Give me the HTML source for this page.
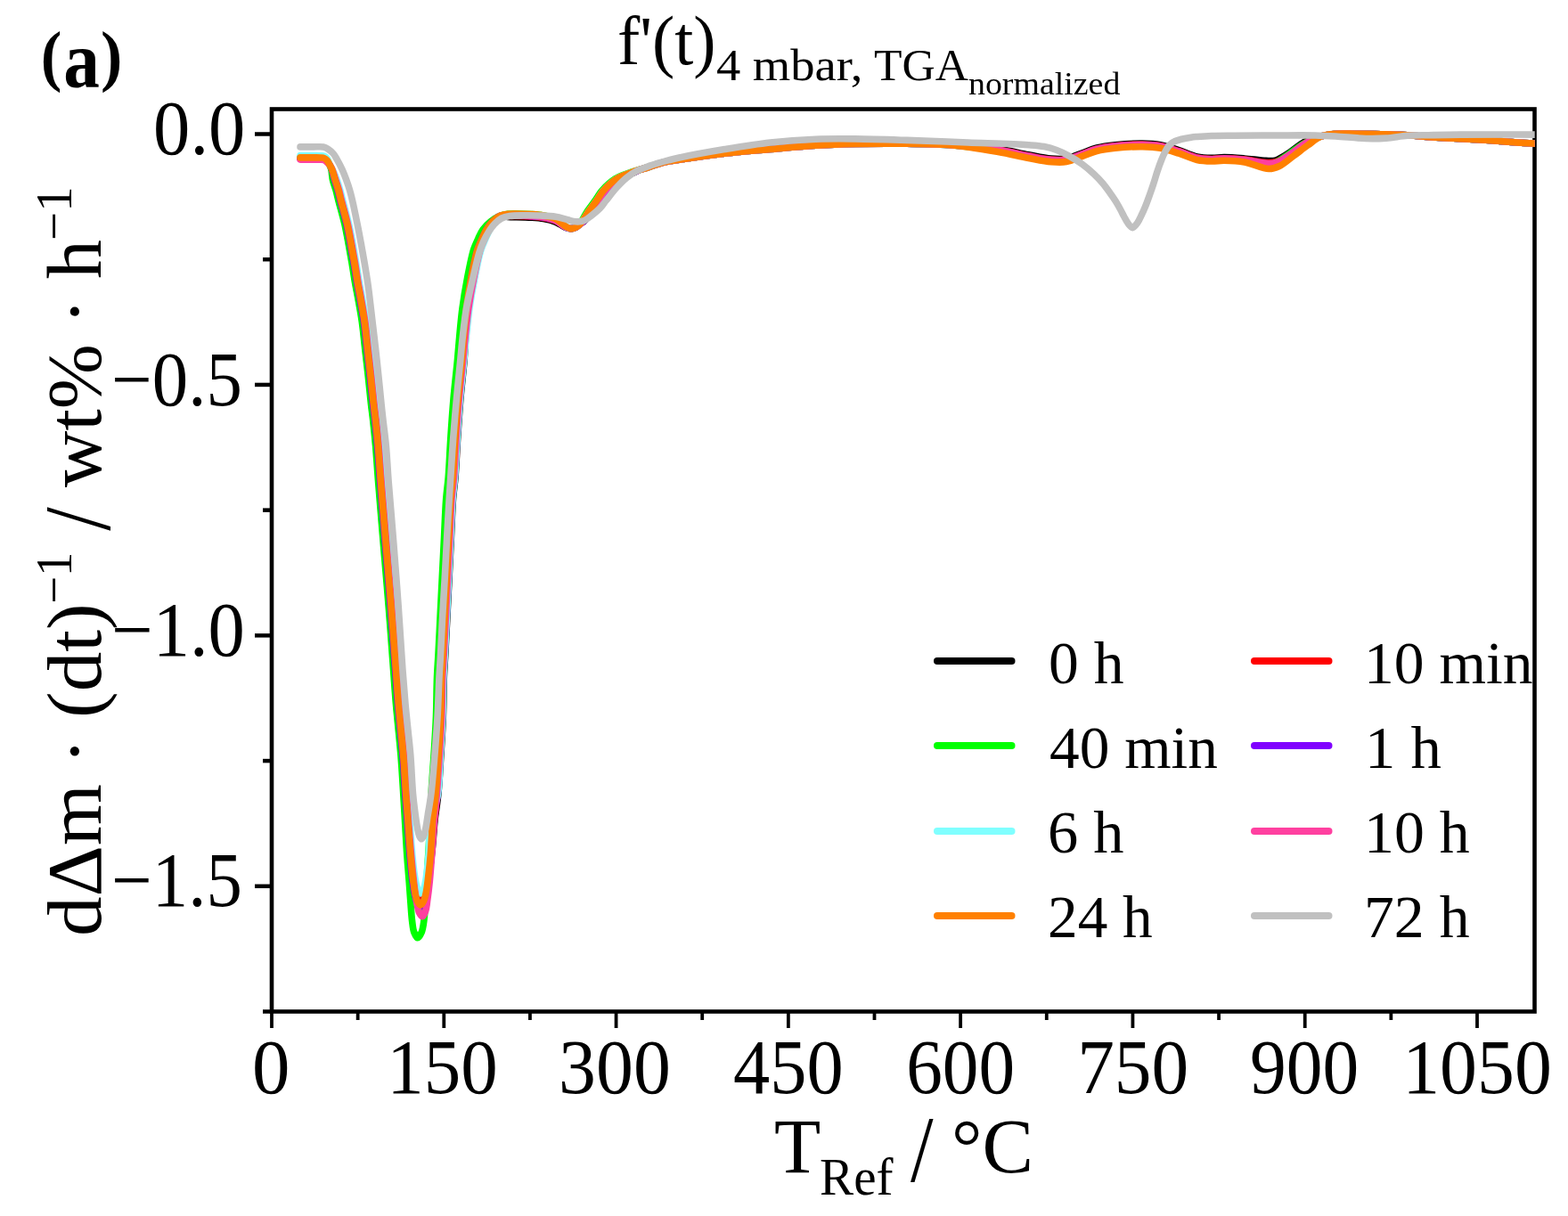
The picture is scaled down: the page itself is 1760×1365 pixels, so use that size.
<!DOCTYPE html>
<html><head><meta charset="utf-8"><title>f'(t) 4 mbar</title><style>
html,body{margin:0;padding:0;background:#fff;width:1760px;height:1365px;overflow:hidden}
svg{display:block}
text{font-family:"Liberation Serif", "DejaVu Serif", serif;fill:#000}
</style></head><body>
<svg width="1760" height="1365" viewBox="0 0 1760 1365">
<rect width="1760" height="1365" fill="#fff"/>
<rect x="305" y="122.5" width="1417.5" height="1013.0" fill="none" stroke="#000" stroke-width="4.6"/>
<g id="curves">
<defs><clipPath id="pc"><rect x="307" y="124.8" width="1415.7" height="1008.4"/></clipPath></defs>
<g clip-path="url(#pc)">
<path d="M337.00,177.40 C341.33,177.40 345.95,177.38 350.00,177.40 C353.55,177.42 357.42,177.29 360.00,177.50 C361.64,177.63 362.78,177.56 364.00,178.10 C365.29,178.67 366.51,179.83 367.50,180.96 C368.51,182.12 369.18,183.55 369.96,185.00 C370.81,186.58 371.62,188.00 372.37,190.10 C373.47,193.18 374.24,197.99 375.34,201.90 C376.45,205.82 377.90,209.68 379.00,213.60 C380.09,217.48 380.70,220.61 381.90,225.30 C383.71,232.39 386.96,243.50 388.90,252.00 C390.65,259.66 391.83,266.66 393.20,274.00 C394.57,281.33 395.86,288.67 397.10,296.00 C398.33,303.30 399.51,311.68 400.60,317.90 C401.41,322.53 402.00,325.04 402.90,330.00 C404.33,337.91 406.73,350.52 408.20,360.80 C409.66,371.02 410.53,381.26 411.70,391.50 C412.87,401.76 414.08,412.03 415.20,422.30 C416.32,432.56 417.38,444.08 418.40,453.10 C419.20,460.17 419.93,465.08 420.70,472.00 C421.63,480.41 422.61,489.83 423.50,500.00 C424.56,512.14 425.30,524.79 426.50,540.00 C428.09,560.22 430.35,587.09 432.30,610.60 C434.25,634.06 436.33,657.46 438.20,680.90 C440.07,704.33 442.00,731.22 443.50,751.20 C444.61,766.04 445.19,775.78 446.40,790.00 C447.88,807.40 450.45,829.99 451.90,848.00 C453.16,863.67 453.69,878.87 454.80,892.00 C455.70,902.68 456.84,910.61 457.80,921.00 C458.92,933.03 459.87,948.08 461.00,960.00 C461.96,970.11 462.82,979.98 464.00,988.00 C464.90,994.09 465.47,999.85 467.00,1004.00 C468.07,1006.92 469.58,1010.89 471.00,1011.00 C472.26,1011.10 473.83,1008.12 475.00,1006.00 C476.57,1003.15 477.68,999.26 478.80,995.00 C480.28,989.37 481.43,982.06 482.50,975.00 C483.70,967.15 484.61,958.65 485.50,950.00 C486.46,940.70 486.95,930.66 488.00,921.00 C489.05,911.32 490.74,902.69 491.80,892.00 C493.11,878.87 493.88,862.67 494.80,848.00 C495.72,833.34 496.72,818.67 497.30,804.00 C497.88,789.34 497.80,772.52 498.30,760.00 C498.67,750.67 499.20,744.92 499.70,735.60 C500.37,723.10 501.17,706.33 501.90,691.70 C502.63,677.07 503.37,662.43 504.10,647.80 C504.83,633.17 505.57,618.53 506.30,603.90 C507.03,589.27 507.54,572.46 508.50,560.00 C509.21,550.73 510.25,545.07 511.00,535.80 C512.01,523.34 512.63,506.54 513.60,491.90 C514.57,477.24 515.55,462.55 516.80,447.90 C518.05,433.25 520.10,416.60 521.09,404.00 C521.83,394.51 522.02,387.91 522.58,379.00 C523.22,368.76 523.64,356.98 524.75,346.00 C525.87,334.98 527.33,323.96 529.28,313.00 C531.24,301.96 533.92,288.19 536.50,280.00 C538.10,274.92 539.78,271.83 541.50,268.00 C543.11,264.41 544.51,260.95 546.46,257.70 C548.42,254.45 550.70,251.10 553.24,248.50 C555.59,246.09 558.14,243.30 561.00,242.50 C563.75,241.73 567.07,243.35 570.00,243.53 C572.79,243.70 574.93,243.53 578.20,243.60 C583.07,243.70 590.78,243.82 596.40,244.20 C601.27,244.53 605.50,244.78 610.00,245.60 C614.57,246.43 619.37,247.49 623.60,249.20 C627.68,250.84 631.81,254.34 635.00,255.53 C637.10,256.31 638.67,256.70 640.50,256.68 C642.34,256.66 644.33,256.18 646.00,255.40 C647.68,254.62 648.91,253.25 650.54,252.00 C652.49,250.51 654.77,249.07 656.87,247.00 C659.46,244.45 662.03,240.83 664.60,237.50 C667.34,233.95 670.09,230.13 672.80,226.30 C675.59,222.37 678.18,217.74 681.10,214.20 C683.71,211.04 686.57,208.28 689.30,205.90 C691.70,203.81 693.92,202.06 696.50,200.50 C699.14,198.91 702.20,197.77 705.00,196.50 C707.69,195.28 710.59,194.09 712.96,193.00 C714.90,192.11 716.19,191.26 718.19,190.50 C720.70,189.54 723.80,188.97 726.90,187.96 C730.53,186.78 734.67,185.00 738.60,183.78 C742.47,182.57 746.35,181.52 750.30,180.67 C754.25,179.83 756.90,179.51 762.30,178.70 C773.41,177.04 796.35,173.75 813.40,171.80 C830.41,169.85 847.45,168.52 864.50,167.00 C881.55,165.48 899.24,163.71 915.70,162.70 C930.99,161.77 944.24,161.33 960.00,161.00 C978.03,160.62 999.26,160.54 1018.00,160.80 C1035.63,161.04 1052.23,161.38 1069.30,162.40 C1086.36,163.42 1105.14,164.69 1120.40,166.90 C1132.97,168.72 1143.94,171.84 1154.50,173.80 C1163.60,175.49 1172.33,177.48 1180.00,178.10 C1186.22,178.60 1191.70,178.88 1197.00,178.00 C1201.88,177.19 1205.69,175.15 1210.70,173.40 C1216.84,171.26 1224.21,167.79 1231.10,166.00 C1237.84,164.25 1244.06,163.50 1251.60,162.70 C1260.78,161.72 1273.11,160.98 1282.30,161.10 C1289.80,161.20 1295.95,161.48 1302.70,162.70 C1309.59,163.95 1316.41,166.41 1323.20,168.60 C1330.04,170.81 1337.08,174.46 1343.60,175.90 C1349.28,177.16 1354.75,177.31 1360.00,177.40 C1364.85,177.48 1368.77,176.60 1374.00,176.60 C1380.68,176.60 1389.09,177.30 1396.80,177.92 C1404.77,178.56 1414.67,180.20 1421.08,180.42 C1425.27,180.56 1427.79,181.09 1431.50,180.06 C1436.42,178.70 1442.21,174.52 1447.50,171.19 C1453.08,167.68 1458.16,162.47 1464.11,159.40 C1470.00,156.36 1476.80,154.37 1483.00,152.83 C1488.75,151.39 1493.96,150.65 1500.00,150.20 C1506.80,149.69 1514.07,150.21 1521.80,150.30 C1530.60,150.40 1540.48,150.56 1550.00,150.80 C1559.77,151.05 1569.34,151.24 1579.70,151.80 C1591.08,152.42 1602.71,153.68 1615.50,154.50 C1630.26,155.44 1647.31,156.00 1663.20,157.00 C1679.11,158.00 1698.57,159.73 1710.90,160.50 C1718.70,160.99 1723.63,161.17 1730.00,161.50" fill="none" stroke="#000000" stroke-width="7.6" stroke-linecap="round" stroke-linejoin="round"/>
<path d="M337.00,177.40 C341.33,177.40 345.95,177.38 350.00,177.40 C353.55,177.42 357.42,177.29 360.00,177.50 C361.64,177.63 362.78,177.56 364.00,178.10 C365.29,178.67 366.51,179.83 367.50,180.96 C368.51,182.12 369.18,183.55 369.98,185.00 C370.84,186.58 371.67,188.00 372.46,190.10 C373.61,193.18 374.49,197.99 375.62,201.90 C376.77,205.82 378.20,209.68 379.30,213.60 C380.39,217.48 381.00,220.61 382.20,225.30 C384.01,232.39 387.26,243.50 389.20,252.00 C390.95,259.66 392.13,266.66 393.50,274.00 C394.87,281.33 396.16,288.67 397.40,296.00 C398.63,303.30 399.81,311.68 400.90,317.90 C401.71,322.53 402.30,325.04 403.20,330.00 C404.63,337.91 407.03,350.52 408.50,360.80 C409.96,371.02 410.83,381.26 412.00,391.50 C413.17,401.76 414.38,412.03 415.50,422.30 C416.62,432.56 417.68,444.08 418.70,453.10 C419.50,460.17 420.23,465.08 421.00,472.00 C421.93,480.41 422.91,489.83 423.80,500.00 C424.86,512.14 425.60,524.79 426.80,540.00 C428.39,560.22 430.65,587.09 432.60,610.60 C434.55,634.06 436.63,657.46 438.50,680.90 C440.37,704.33 442.30,731.22 443.80,751.20 C444.91,766.04 445.49,775.78 446.70,790.00 C448.18,807.40 450.75,829.99 452.20,848.00 C453.46,863.67 454.06,878.86 455.10,892.00 C455.95,902.68 456.89,910.62 457.80,921.00 C458.85,933.04 459.87,948.08 461.00,960.00 C461.96,970.11 462.82,979.98 464.00,988.00 C464.90,994.09 465.40,1000.06 467.00,1004.00 C468.07,1006.62 469.62,1009.94 471.00,1010.00 C472.30,1010.06 473.86,1007.12 475.00,1005.00 C476.52,1002.15 477.45,998.20 478.50,994.00 C479.86,988.56 480.97,981.78 482.00,975.00 C483.18,967.25 484.11,958.65 485.00,950.00 C485.96,940.70 486.50,930.66 487.50,921.00 C488.50,911.32 489.99,902.69 491.00,892.00 C492.24,878.87 493.08,862.67 494.00,848.00 C494.92,833.34 495.92,818.67 496.50,804.00 C497.08,789.34 497.00,772.52 497.50,760.00 C497.87,750.67 498.40,744.92 498.90,735.60 C499.57,723.10 500.37,706.33 501.10,691.70 C501.83,677.07 502.57,662.43 503.30,647.80 C504.03,633.17 504.77,618.53 505.50,603.90 C506.23,589.27 506.74,572.46 507.70,560.00 C508.41,550.73 509.45,545.07 510.20,535.80 C511.21,523.34 511.83,506.54 512.80,491.90 C513.77,477.24 514.75,462.55 516.00,447.90 C517.25,433.25 519.29,416.59 520.32,404.00 C521.09,394.51 521.32,387.91 521.94,379.00 C522.65,368.76 523.18,356.98 524.36,346.00 C525.54,334.98 527.07,323.96 529.06,313.00 C531.05,301.96 533.72,288.19 536.30,280.00 C537.90,274.92 539.58,271.82 541.30,268.00 C542.91,264.41 544.31,260.95 546.28,257.70 C548.25,254.45 550.58,251.09 553.14,248.50 C555.52,246.09 558.11,243.47 561.00,242.50 C563.76,241.58 567.07,242.54 570.00,242.54 C572.80,242.54 574.93,242.45 578.20,242.50 C583.07,242.57 590.78,242.72 596.40,243.10 C601.27,243.43 605.50,243.68 610.00,244.50 C614.57,245.33 619.39,246.29 623.60,248.10 C627.71,249.86 631.80,253.72 635.00,255.12 C637.09,256.04 638.66,256.61 640.50,256.65 C642.33,256.70 644.33,256.17 646.00,255.40 C647.67,254.62 648.96,253.27 650.53,252.00 C652.36,250.52 654.35,249.05 656.28,247.00 C658.70,244.43 661.11,240.81 663.60,237.50 C666.28,233.94 669.09,230.13 671.80,226.30 C674.59,222.37 677.18,217.74 680.10,214.20 C682.71,211.04 685.57,208.28 688.30,205.90 C690.70,203.81 692.92,202.06 695.50,200.50 C698.14,198.91 701.18,197.76 704.00,196.50 C706.75,195.27 709.70,194.07 712.22,193.00 C714.36,192.09 715.95,191.27 718.15,190.50 C720.75,189.58 723.78,188.98 726.90,188.00 C730.53,186.86 734.67,185.16 738.60,184.00 C742.48,182.86 746.36,181.90 750.30,181.10 C754.26,180.30 756.91,179.99 762.30,179.20 C773.41,177.57 796.35,174.25 813.40,172.30 C830.41,170.35 847.45,169.02 864.50,167.50 C881.55,165.98 899.24,164.21 915.70,163.20 C930.99,162.27 944.24,161.83 960.00,161.50 C978.03,161.12 999.26,161.04 1018.00,161.30 C1035.63,161.54 1052.24,161.78 1069.30,162.90 C1086.37,164.02 1105.13,165.70 1120.40,168.00 C1132.96,169.89 1143.94,172.94 1154.50,174.90 C1163.60,176.59 1172.33,178.58 1180.00,179.20 C1186.22,179.70 1191.70,179.98 1197.00,179.10 C1201.88,178.29 1205.69,176.25 1210.70,174.50 C1216.84,172.36 1224.21,168.89 1231.10,167.10 C1237.84,165.35 1244.06,164.60 1251.60,163.80 C1260.78,162.82 1273.11,162.08 1282.30,162.20 C1289.80,162.30 1295.95,162.58 1302.70,163.80 C1309.59,165.05 1316.41,167.51 1323.20,169.70 C1330.04,171.91 1337.08,175.56 1343.60,177.00 C1349.28,178.26 1354.75,178.41 1360.00,178.50 C1364.85,178.58 1368.77,177.69 1374.00,177.70 C1380.68,177.71 1389.07,178.32 1396.80,179.09 C1404.86,179.90 1414.90,182.33 1421.41,182.52 C1425.66,182.64 1428.25,182.85 1432.00,181.67 C1436.95,180.12 1442.70,175.76 1448.00,172.33 C1453.55,168.74 1458.68,163.75 1464.54,160.50 C1470.35,157.28 1476.87,154.60 1483.00,152.88 C1488.69,151.28 1493.96,150.66 1500.00,150.20 C1506.80,149.68 1514.07,150.21 1521.80,150.30 C1530.60,150.40 1540.48,150.56 1550.00,150.80 C1559.77,151.05 1569.34,151.24 1579.70,151.80 C1591.08,152.42 1602.71,153.68 1615.50,154.50 C1630.26,155.44 1647.31,156.00 1663.20,157.00 C1679.11,158.00 1698.57,159.73 1710.90,160.50 C1718.70,160.99 1723.63,161.17 1730.00,161.50" fill="none" stroke="#ff0000" stroke-width="7.6" stroke-linecap="round" stroke-linejoin="round"/>
<path d="M337.00,176.90 C341.33,176.90 345.95,176.88 350.00,176.90 C353.55,176.92 357.42,176.79 360.00,177.00 C361.64,177.13 362.78,177.05 364.00,177.60 C365.29,178.18 366.54,179.31 367.50,180.50 C368.52,181.75 369.16,183.43 369.87,185.00 C370.60,186.63 371.27,188.01 371.80,190.10 C372.59,193.19 372.58,198.01 373.44,201.90 C374.31,205.84 375.92,209.69 377.00,213.60 C378.07,217.49 378.70,220.61 379.90,225.30 C381.71,232.39 384.96,243.50 386.90,252.00 C388.65,259.66 389.83,266.66 391.20,274.00 C392.57,281.33 393.86,288.67 395.10,296.00 C396.33,303.30 397.51,311.68 398.60,317.90 C399.41,322.53 400.00,325.04 400.90,330.00 C402.33,337.91 404.73,350.52 406.20,360.80 C407.66,371.02 408.53,381.26 409.70,391.50 C410.87,401.76 412.08,412.03 413.20,422.30 C414.32,432.56 415.38,444.08 416.40,453.10 C417.20,460.17 417.93,465.08 418.70,472.00 C419.63,480.41 420.61,489.83 421.50,500.00 C422.56,512.14 423.30,524.79 424.50,540.00 C426.09,560.22 428.35,587.09 430.30,610.60 C432.25,634.06 434.33,657.46 436.20,680.90 C438.07,704.33 440.00,731.22 441.50,751.20 C442.61,766.04 443.19,775.78 444.40,790.00 C445.88,807.40 448.45,829.99 449.90,848.00 C451.16,863.67 451.98,878.86 452.80,892.00 C453.46,902.67 453.89,910.62 454.50,921.00 C455.21,933.04 455.96,947.86 456.80,960.00 C457.54,970.66 458.50,980.77 459.20,990.00 C459.80,997.90 460.23,1004.67 460.80,1012.00 C461.37,1019.33 461.79,1027.71 462.60,1034.00 C463.21,1038.77 463.48,1043.15 464.80,1046.50 C465.82,1049.08 467.51,1052.78 468.90,1052.80 C470.30,1052.82 472.10,1049.09 473.20,1046.50 C474.62,1043.15 475.10,1038.95 475.80,1034.00 C476.80,1026.93 477.17,1017.19 477.80,1008.00 C478.51,997.66 479.09,986.85 479.80,975.00 C480.63,961.16 481.79,944.37 482.50,930.00 C483.16,916.80 483.29,905.13 484.00,892.00 C484.76,877.87 486.08,862.67 487.00,848.00 C487.92,833.34 488.92,818.67 489.50,804.00 C490.08,789.34 490.00,772.52 490.50,760.00 C490.87,750.67 491.40,744.92 491.90,735.60 C492.57,723.10 493.37,706.33 494.10,691.70 C494.83,677.07 495.57,662.43 496.30,647.80 C497.03,633.17 497.77,618.53 498.50,603.90 C499.23,589.27 499.74,572.46 500.70,560.00 C501.41,550.73 502.45,545.07 503.20,535.80 C504.21,523.34 504.83,506.54 505.80,491.90 C506.77,477.24 507.73,462.55 509.00,447.90 C510.27,433.25 512.26,416.59 513.43,404.00 C514.32,394.51 514.75,387.91 515.59,379.00 C516.56,368.76 517.51,356.98 518.97,346.00 C520.44,334.98 522.26,323.97 524.38,313.00 C526.50,301.97 529.11,288.19 531.70,280.00 C533.31,274.92 534.93,271.81 536.70,268.00 C538.38,264.40 539.72,260.88 542.01,257.70 C544.43,254.35 547.72,251.07 550.97,248.50 C554.08,246.05 557.64,243.88 561.00,242.50 C563.99,241.27 567.05,240.71 570.00,240.30 C572.78,239.91 574.93,240.01 578.20,240.00 C583.07,239.99 590.78,240.22 596.40,240.60 C601.27,240.93 605.50,241.18 610.00,242.00 C614.57,242.83 619.45,243.58 623.60,245.60 C627.79,247.63 631.79,252.32 635.00,254.20 C637.08,255.42 638.64,256.42 640.50,256.60 C642.30,256.78 644.34,256.17 646.00,255.40 C647.66,254.63 649.23,253.38 650.48,252.00 C651.76,250.59 652.40,248.94 653.55,247.00 C655.13,244.35 656.90,240.74 659.00,237.50 C661.37,233.86 664.49,230.13 667.20,226.30 C669.99,222.37 672.58,217.74 675.50,214.20 C678.11,211.04 680.97,208.28 683.70,205.90 C686.10,203.81 688.32,202.06 690.90,200.50 C693.54,198.91 696.47,197.73 699.40,196.50 C702.43,195.23 705.68,194.01 708.81,193.00 C711.85,192.02 714.90,191.34 717.92,190.50 C720.93,189.67 723.72,188.98 726.90,188.00 C730.56,186.87 734.67,185.16 738.60,184.00 C742.48,182.86 746.36,181.90 750.30,181.10 C754.26,180.30 756.91,179.99 762.30,179.20 C773.41,177.57 796.35,174.25 813.40,172.30 C830.41,170.35 847.45,169.02 864.50,167.50 C881.55,165.98 899.24,164.21 915.70,163.20 C930.99,162.27 944.24,161.83 960.00,161.50 C978.03,161.12 999.26,161.04 1018.00,161.30 C1035.63,161.54 1052.24,161.62 1069.30,162.90 C1086.38,164.18 1105.13,166.55 1120.40,169.00 C1132.96,171.02 1143.94,173.94 1154.50,175.90 C1163.60,177.59 1172.33,179.58 1180.00,180.20 C1186.22,180.70 1191.70,180.98 1197.00,180.10 C1201.88,179.29 1205.69,177.25 1210.70,175.50 C1216.84,173.36 1224.21,169.89 1231.10,168.10 C1237.84,166.35 1244.06,165.60 1251.60,164.80 C1260.78,163.82 1273.11,163.08 1282.30,163.20 C1289.80,163.30 1295.95,163.58 1302.70,164.80 C1309.59,166.05 1316.41,168.51 1323.20,170.70 C1330.04,172.91 1337.08,176.56 1343.60,178.00 C1349.28,179.26 1354.75,179.41 1360.00,179.50 C1364.85,179.58 1368.77,178.68 1374.00,178.70 C1380.68,178.73 1389.19,179.16 1396.80,180.19 C1404.56,181.25 1413.97,184.87 1420.11,185.01 C1424.09,185.11 1426.46,184.78 1430.00,183.45 C1434.87,181.62 1440.65,176.96 1446.00,173.39 C1451.58,169.66 1456.76,164.87 1462.81,161.50 C1469.06,158.02 1476.45,154.81 1483.00,152.93 C1488.81,151.26 1493.96,150.67 1500.00,150.20 C1506.80,149.67 1514.07,150.21 1521.80,150.30 C1530.60,150.40 1540.48,150.56 1550.00,150.80 C1559.77,151.05 1569.34,151.24 1579.70,151.80 C1591.08,152.42 1602.71,153.68 1615.50,154.50 C1630.26,155.44 1647.31,156.00 1663.20,157.00 C1679.11,158.00 1698.57,159.73 1710.90,160.50 C1718.70,160.99 1723.63,161.17 1730.00,161.50" fill="none" stroke="#00ff00" stroke-width="7.6" stroke-linecap="round" stroke-linejoin="round"/>
<path d="M337.00,177.70 C341.33,177.70 345.95,177.68 350.00,177.70 C353.55,177.72 357.42,177.59 360.00,177.80 C361.64,177.93 362.78,177.86 364.00,178.40 C365.29,178.97 366.51,180.13 367.50,181.23 C368.49,182.33 369.19,183.62 369.97,185.00 C370.84,186.55 371.64,188.00 372.40,190.10 C373.52,193.18 374.32,197.99 375.43,201.90 C376.55,205.82 378.00,209.68 379.10,213.60 C380.19,217.48 380.80,220.61 382.00,225.30 C383.81,232.39 387.06,243.50 389.00,252.00 C390.75,259.66 391.93,266.66 393.30,274.00 C394.67,281.33 395.96,288.67 397.20,296.00 C398.43,303.30 399.61,311.68 400.70,317.90 C401.51,322.53 402.10,325.04 403.00,330.00 C404.43,337.91 406.83,350.52 408.30,360.80 C409.76,371.02 410.63,381.26 411.80,391.50 C412.97,401.76 414.18,412.03 415.30,422.30 C416.42,432.56 417.48,444.08 418.50,453.10 C419.30,460.17 420.03,465.08 420.80,472.00 C421.73,480.41 422.71,489.83 423.60,500.00 C424.66,512.14 425.40,524.79 426.60,540.00 C428.19,560.22 430.45,587.09 432.40,610.60 C434.35,634.06 436.43,657.46 438.30,680.90 C440.17,704.33 442.10,731.22 443.60,751.20 C444.71,766.04 445.29,775.78 446.50,790.00 C447.98,807.40 450.55,829.99 452.00,848.00 C453.26,863.67 453.97,878.86 454.90,892.00 C455.66,902.67 456.31,910.62 457.10,921.00 C458.02,933.04 459.08,948.44 460.10,960.00 C460.92,969.26 461.67,977.48 462.60,985.00 C463.37,991.22 464.07,996.97 465.10,1002.00 C465.94,1006.09 466.67,1010.14 468.00,1013.00 C468.97,1015.10 470.33,1018.00 471.50,1018.00 C472.67,1018.00 474.03,1015.05 475.00,1013.00 C476.27,1010.32 477.00,1006.85 477.80,1003.00 C478.86,997.91 479.50,991.50 480.30,985.00 C481.24,977.36 482.17,969.26 483.00,960.00 C484.04,948.45 484.26,933.00 485.80,921.00 C487.14,910.58 489.84,902.71 491.20,892.00 C492.86,878.90 493.28,862.67 494.20,848.00 C495.12,833.34 496.12,818.67 496.70,804.00 C497.28,789.34 497.20,772.52 497.70,760.00 C498.07,750.67 498.60,744.92 499.10,735.60 C499.77,723.10 500.57,706.33 501.30,691.70 C502.03,677.07 502.77,662.43 503.50,647.80 C504.23,633.17 504.97,618.53 505.70,603.90 C506.43,589.27 506.94,572.46 507.90,560.00 C508.61,550.73 509.65,545.07 510.40,535.80 C511.41,523.34 512.03,506.54 513.00,491.90 C513.97,477.24 514.95,462.55 516.20,447.90 C517.45,433.25 519.50,416.60 520.49,404.00 C521.24,394.51 521.44,387.91 522.01,379.00 C522.66,368.76 523.10,356.98 524.22,346.00 C525.35,334.98 526.82,323.96 528.77,313.00 C530.74,301.96 533.42,288.19 536.00,280.00 C537.60,274.92 539.28,271.82 541.00,268.00 C542.62,264.41 544.01,260.94 546.00,257.70 C548.00,254.44 550.39,251.09 553.00,248.50 C555.43,246.09 558.08,243.55 561.00,242.50 C563.77,241.51 567.07,242.17 570.00,242.09 C572.80,242.01 574.93,241.96 578.20,242.00 C583.07,242.05 590.78,242.22 596.40,242.60 C601.27,242.93 605.50,243.18 610.00,244.00 C614.57,244.83 619.40,245.75 623.60,247.60 C627.72,249.42 631.80,253.44 635.00,254.94 C637.09,255.91 638.66,256.57 640.50,256.64 C642.32,256.72 644.33,256.17 646.00,255.40 C647.68,254.63 648.93,253.26 650.54,252.00 C652.43,250.51 654.56,249.06 656.58,247.00 C659.08,244.44 661.57,240.82 664.10,237.50 C666.81,233.94 669.59,230.13 672.30,226.30 C675.09,222.37 677.68,217.74 680.60,214.20 C683.21,211.04 686.07,208.28 688.80,205.90 C691.20,203.81 693.42,202.06 696.00,200.50 C698.64,198.91 701.69,197.77 704.50,196.50 C707.22,195.27 710.15,194.08 712.59,193.00 C714.63,192.10 716.07,191.27 718.17,190.50 C720.73,189.57 723.79,188.98 726.90,188.00 C730.53,186.86 734.67,185.16 738.60,184.00 C742.48,182.86 746.36,181.90 750.30,181.10 C754.26,180.30 756.91,179.99 762.30,179.20 C773.41,177.57 796.35,174.25 813.40,172.30 C830.41,170.35 847.45,169.02 864.50,167.50 C881.55,165.98 899.24,164.21 915.70,163.20 C930.99,162.27 944.24,161.83 960.00,161.50 C978.03,161.12 999.26,161.04 1018.00,161.30 C1035.63,161.54 1052.24,161.68 1069.30,162.90 C1086.37,164.12 1105.13,166.21 1120.40,168.60 C1132.96,170.57 1143.94,173.54 1154.50,175.50 C1163.60,177.19 1172.33,179.18 1180.00,179.80 C1186.22,180.30 1191.70,180.58 1197.00,179.70 C1201.88,178.89 1205.69,176.85 1210.70,175.10 C1216.84,172.96 1224.21,169.49 1231.10,167.70 C1237.84,165.95 1244.06,165.20 1251.60,164.40 C1260.78,163.42 1273.11,162.68 1282.30,162.80 C1289.80,162.90 1295.95,163.18 1302.70,164.40 C1309.59,165.65 1316.41,168.11 1323.20,170.30 C1330.04,172.51 1337.08,176.16 1343.60,177.60 C1349.28,178.86 1354.75,179.01 1360.00,179.10 C1364.85,179.18 1368.77,178.28 1374.00,178.30 C1380.68,178.32 1389.03,178.84 1396.80,179.76 C1405.03,180.73 1415.36,183.94 1422.06,184.11 C1426.45,184.22 1429.16,184.13 1433.00,182.79 C1438.01,181.05 1443.70,176.51 1449.00,172.97 C1454.50,169.30 1459.67,164.47 1465.41,161.10 C1471.02,157.80 1477.06,154.73 1483.00,152.91 C1488.60,151.20 1493.96,150.66 1500.00,150.20 C1506.80,149.68 1514.07,150.21 1521.80,150.30 C1530.60,150.40 1540.48,150.56 1550.00,150.80 C1559.77,151.05 1569.34,151.24 1579.70,151.80 C1591.08,152.42 1602.71,153.68 1615.50,154.50 C1630.26,155.44 1647.31,156.00 1663.20,157.00 C1679.11,158.00 1698.57,159.73 1710.90,160.50 C1718.70,160.99 1723.63,161.17 1730.00,161.50" fill="none" stroke="#8000ff" stroke-width="7.6" stroke-linecap="round" stroke-linejoin="round"/>
<path d="M337.00,174.60 C341.33,174.60 345.95,174.58 350.00,174.60 C353.55,174.62 357.42,174.49 360.00,174.70 C361.64,174.83 362.79,174.73 364.00,175.30 C365.30,175.91 366.54,177.02 367.50,178.39 C368.68,180.08 369.10,182.98 370.09,185.00 C371.01,186.85 372.11,188.00 373.17,190.10 C374.71,193.17 376.55,197.95 378.00,201.90 C379.42,205.78 380.68,209.68 381.80,213.60 C382.91,217.48 383.50,220.61 384.70,225.30 C386.51,232.39 389.76,243.50 391.70,252.00 C393.45,259.66 394.63,266.66 396.00,274.00 C397.37,281.33 398.66,288.67 399.90,296.00 C401.13,303.30 402.31,311.68 403.40,317.90 C404.21,322.53 404.80,325.04 405.70,330.00 C407.13,337.91 409.53,350.52 411.00,360.80 C412.46,371.02 413.33,381.26 414.50,391.50 C415.67,401.76 416.88,412.03 418.00,422.30 C419.12,432.56 420.18,444.08 421.20,453.10 C422.00,460.17 422.73,465.08 423.50,472.00 C424.43,480.41 425.41,489.83 426.30,500.00 C427.36,512.14 428.10,524.79 429.30,540.00 C430.89,560.22 433.15,587.09 435.10,610.60 C437.05,634.06 439.13,657.46 441.00,680.90 C442.87,704.33 444.80,731.22 446.30,751.20 C447.41,766.04 447.99,775.78 449.20,790.00 C450.68,807.40 453.25,829.99 454.70,848.00 C455.96,863.67 456.67,878.86 457.60,892.00 C458.36,902.67 459.01,910.62 459.80,921.00 C460.72,933.04 461.66,948.45 462.80,960.00 C463.71,969.27 464.58,978.04 465.80,985.00 C466.69,990.06 467.44,994.77 468.80,998.00 C469.71,1000.16 470.89,1002.98 472.00,1003.00 C473.12,1003.02 474.55,1000.18 475.50,998.00 C476.90,994.78 477.48,990.06 478.30,985.00 C479.42,978.04 480.20,969.27 481.00,960.00 C481.99,948.45 481.51,932.95 483.50,921.00 C485.24,910.52 489.58,902.77 491.40,892.00 C493.60,878.95 493.48,862.67 494.40,848.00 C495.32,833.34 496.32,818.67 496.90,804.00 C497.48,789.34 497.40,772.52 497.90,760.00 C498.27,750.67 498.80,744.92 499.30,735.60 C499.97,723.10 500.77,706.33 501.50,691.70 C502.23,677.07 502.97,662.43 503.70,647.80 C504.43,633.17 505.17,618.53 505.90,603.90 C506.63,589.27 507.14,572.46 508.10,560.00 C508.81,550.73 509.85,545.07 510.60,535.80 C511.61,523.34 512.23,506.54 513.20,491.90 C514.17,477.24 515.12,462.55 516.40,447.90 C517.68,433.25 519.64,416.59 520.88,404.00 C521.81,394.50 522.31,387.91 523.23,379.00 C524.30,368.76 525.41,356.98 526.97,346.00 C528.55,334.98 530.48,323.97 532.65,313.00 C534.82,301.97 537.40,288.19 540.00,280.00 C541.61,274.92 543.33,271.83 545.00,268.00 C546.56,264.42 548.03,261.00 549.71,257.70 C551.33,254.51 552.88,251.12 554.88,248.50 C556.69,246.14 558.53,243.65 561.00,242.50 C563.54,241.32 567.07,241.81 570.00,241.64 C572.79,241.49 574.93,241.47 578.20,241.50 C583.07,241.54 590.78,241.72 596.40,242.10 C601.27,242.43 605.50,242.68 610.00,243.50 C614.57,244.33 619.41,245.20 623.60,247.10 C627.74,248.97 631.80,253.16 635.00,254.75 C637.09,255.79 638.65,256.53 640.50,256.63 C642.32,256.73 644.33,256.17 646.00,255.40 C647.67,254.63 649.12,253.34 650.50,252.00 C651.97,250.57 653.08,248.98 654.50,247.00 C656.38,244.38 658.36,240.76 660.60,237.50 C663.08,233.88 666.09,230.13 668.80,226.30 C671.59,222.37 674.18,217.74 677.10,214.20 C679.71,211.04 682.57,208.28 685.30,205.90 C687.70,203.81 689.92,202.06 692.50,200.50 C695.14,198.91 698.10,197.74 701.00,196.50 C703.94,195.24 707.07,194.03 710.00,193.00 C712.73,192.04 715.26,191.31 718.00,190.50 C720.88,189.65 723.75,188.98 726.90,188.00 C730.55,186.86 734.67,185.16 738.60,184.00 C742.48,182.86 746.36,181.90 750.30,181.10 C754.26,180.30 756.91,179.99 762.30,179.20 C773.41,177.57 796.35,174.25 813.40,172.30 C830.41,170.35 847.45,169.02 864.50,167.50 C881.55,165.98 899.24,164.21 915.70,163.20 C930.99,162.27 944.24,161.83 960.00,161.50 C978.03,161.12 999.26,161.04 1018.00,161.30 C1035.63,161.54 1052.25,161.54 1069.30,162.90 C1086.38,164.27 1105.12,166.97 1120.40,169.50 C1132.95,171.58 1143.94,174.44 1154.50,176.40 C1163.60,178.09 1172.33,180.08 1180.00,180.70 C1186.22,181.20 1191.70,181.48 1197.00,180.60 C1201.88,179.79 1205.69,177.75 1210.70,176.00 C1216.84,173.86 1224.21,170.39 1231.10,168.60 C1237.84,166.85 1244.06,166.10 1251.60,165.30 C1260.78,164.32 1273.11,163.58 1282.30,163.70 C1289.80,163.80 1295.95,164.08 1302.70,165.30 C1309.59,166.55 1316.41,169.01 1323.20,171.20 C1330.04,173.41 1337.08,177.06 1343.60,178.50 C1349.28,179.76 1354.75,179.91 1360.00,180.00 C1364.85,180.08 1368.77,179.15 1374.00,179.20 C1380.68,179.26 1388.94,179.52 1396.80,180.90 C1405.54,182.43 1416.75,188.40 1424.00,188.50 C1428.80,188.57 1431.90,187.40 1436.00,185.50 C1441.17,183.10 1446.69,177.90 1452.00,174.00 C1457.35,170.07 1462.66,165.60 1468.00,162.00 C1473.00,158.63 1477.64,154.92 1483.00,152.95 C1488.31,151.00 1493.96,150.67 1500.00,150.20 C1506.79,149.67 1514.07,150.21 1521.80,150.30 C1530.60,150.40 1540.48,150.56 1550.00,150.80 C1559.77,151.05 1569.34,151.24 1579.70,151.80 C1591.08,152.42 1602.71,153.68 1615.50,154.50 C1630.26,155.44 1647.31,156.00 1663.20,157.00 C1679.11,158.00 1698.57,159.73 1710.90,160.50 C1718.70,160.99 1723.63,161.17 1730.00,161.50" fill="none" stroke="#80ffff" stroke-width="7.6" stroke-linecap="round" stroke-linejoin="round"/>
<path d="M337.00,179.10 C341.33,179.10 345.95,179.08 350.00,179.10 C353.55,179.12 357.42,178.99 360.00,179.20 C361.64,179.33 362.77,179.28 364.00,179.80 C365.28,180.35 366.45,181.60 367.50,182.51 C368.44,183.33 369.24,183.95 370.04,185.00 C371.05,186.34 371.90,188.00 372.83,190.10 C374.18,193.18 375.56,197.97 376.86,201.90 C378.15,205.80 379.49,209.68 380.60,213.60 C381.70,217.48 382.30,220.61 383.50,225.30 C385.31,232.39 388.56,243.50 390.50,252.00 C392.25,259.66 393.43,266.66 394.80,274.00 C396.17,281.33 397.46,288.67 398.70,296.00 C399.93,303.30 401.11,311.68 402.20,317.90 C403.01,322.53 403.60,325.04 404.50,330.00 C405.93,337.91 408.33,350.52 409.80,360.80 C411.26,371.02 412.13,381.26 413.30,391.50 C414.47,401.76 415.68,412.03 416.80,422.30 C417.92,432.56 418.98,444.08 420.00,453.10 C420.80,460.17 421.53,465.08 422.30,472.00 C423.23,480.41 424.21,489.83 425.10,500.00 C426.16,512.14 426.90,524.79 428.10,540.00 C429.69,560.22 431.95,587.09 433.90,610.60 C435.85,634.06 437.93,657.46 439.80,680.90 C441.67,704.33 443.60,731.22 445.10,751.20 C446.21,766.04 446.79,775.78 448.00,790.00 C449.48,807.40 452.05,829.99 453.50,848.00 C454.76,863.67 455.49,878.86 456.40,892.00 C457.14,902.67 457.71,910.62 458.50,921.00 C459.41,933.04 460.51,947.86 461.60,960.00 C462.56,970.66 463.51,980.78 464.60,990.00 C465.53,997.91 466.42,1005.72 467.60,1012.00 C468.50,1016.78 469.11,1021.54 470.60,1024.50 C471.59,1026.46 473.08,1028.89 474.20,1028.80 C475.43,1028.70 476.72,1025.42 477.60,1023.00 C478.83,1019.62 479.11,1014.81 479.80,1010.00 C480.66,1004.06 481.45,997.35 482.20,990.00 C483.11,981.02 483.87,970.66 484.70,960.00 C485.64,947.85 486.49,933.03 487.50,921.00 C488.37,910.61 489.42,902.68 490.30,892.00 C491.38,878.86 492.38,862.67 493.30,848.00 C494.22,833.34 495.22,818.67 495.80,804.00 C496.38,789.34 496.30,772.52 496.80,760.00 C497.17,750.67 497.70,744.92 498.20,735.60 C498.87,723.10 499.67,706.33 500.40,691.70 C501.13,677.07 501.87,662.43 502.60,647.80 C503.33,633.17 504.07,618.53 504.80,603.90 C505.53,589.27 506.04,572.46 507.00,560.00 C507.71,550.73 508.75,545.07 509.50,535.80 C510.51,523.34 511.13,506.54 512.10,491.90 C513.07,477.24 514.02,462.55 515.30,447.90 C516.58,433.25 518.54,416.59 519.78,404.00 C520.72,394.50 521.23,387.91 522.16,379.00 C523.23,368.76 524.37,356.98 525.94,346.00 C527.52,334.98 529.47,323.97 531.64,313.00 C533.82,301.97 536.40,288.19 539.00,280.00 C540.61,274.92 542.31,271.83 544.00,268.00 C545.58,264.42 547.02,260.99 548.78,257.70 C550.50,254.50 552.25,251.11 554.41,248.50 C556.38,246.13 558.41,243.60 561.00,242.50 C563.60,241.39 567.07,242.03 570.00,241.91 C572.80,241.80 574.93,241.77 578.20,241.80 C583.07,241.85 590.78,242.02 596.40,242.40 C601.27,242.73 605.50,242.98 610.00,243.80 C614.57,244.63 619.41,245.53 623.60,247.40 C627.73,249.24 631.80,253.33 635.00,254.86 C637.09,255.86 638.66,256.56 640.50,256.64 C642.32,256.72 644.33,256.17 646.00,255.40 C647.67,254.63 649.01,253.30 650.52,252.00 C652.23,250.54 653.93,249.02 655.69,247.00 C657.93,244.41 660.19,240.80 662.60,237.50 C665.21,233.92 668.09,230.13 670.80,226.30 C673.59,222.37 676.18,217.74 679.10,214.20 C681.71,211.04 684.57,208.28 687.30,205.90 C689.70,203.81 691.92,202.06 694.50,200.50 C697.14,198.91 700.15,197.76 703.00,196.50 C705.81,195.26 708.82,194.05 711.48,193.00 C713.82,192.08 715.72,191.29 718.10,190.50 C720.80,189.61 723.77,188.98 726.90,188.00 C730.54,186.86 734.67,185.16 738.60,184.00 C742.48,182.86 746.36,181.90 750.30,181.10 C754.26,180.30 756.91,179.99 762.30,179.20 C773.41,177.57 796.35,174.25 813.40,172.30 C830.41,170.35 847.45,169.02 864.50,167.50 C881.55,165.98 899.24,164.21 915.70,163.20 C930.99,162.27 944.24,161.83 960.00,161.50 C978.03,161.12 999.26,161.04 1018.00,161.30 C1035.63,161.54 1052.24,161.75 1069.30,162.90 C1086.37,164.05 1105.13,165.87 1120.40,168.20 C1132.96,170.12 1143.94,173.14 1154.50,175.10 C1163.60,176.79 1172.33,178.78 1180.00,179.40 C1186.22,179.90 1191.70,180.18 1197.00,179.30 C1201.88,178.49 1205.69,176.45 1210.70,174.70 C1216.84,172.56 1224.21,169.09 1231.10,167.30 C1237.84,165.55 1244.06,164.80 1251.60,164.00 C1260.78,163.02 1273.11,162.28 1282.30,162.40 C1289.80,162.50 1295.95,162.78 1302.70,164.00 C1309.59,165.25 1316.41,167.71 1323.20,169.90 C1330.04,172.11 1337.08,175.76 1343.60,177.20 C1349.28,178.46 1354.75,178.61 1360.00,178.70 C1364.85,178.78 1368.77,177.88 1374.00,177.90 C1380.68,177.92 1389.03,178.47 1396.80,179.34 C1405.03,180.26 1415.36,183.24 1422.06,183.41 C1426.45,183.53 1429.16,183.53 1433.00,182.24 C1438.01,180.55 1443.70,176.06 1449.00,172.56 C1454.51,168.91 1459.66,164.00 1465.41,160.70 C1471.01,157.48 1477.07,154.64 1483.00,152.89 C1488.61,151.23 1493.96,150.66 1500.00,150.20 C1506.80,149.68 1514.07,150.21 1521.80,150.30 C1530.60,150.40 1540.48,150.56 1550.00,150.80 C1559.77,151.05 1569.34,151.24 1579.70,151.80 C1591.08,152.42 1602.71,153.68 1615.50,154.50 C1630.26,155.44 1647.31,156.00 1663.20,157.00 C1679.11,158.00 1698.57,159.73 1710.90,160.50 C1718.70,160.99 1723.63,161.17 1730.00,161.50" fill="none" stroke="#ff40a0" stroke-width="7.6" stroke-linecap="round" stroke-linejoin="round"/>
<path d="M337.00,176.90 C341.33,176.90 345.95,176.88 350.00,176.90 C353.55,176.92 357.42,176.79 360.00,177.00 C361.64,177.13 362.78,177.05 364.00,177.60 C365.29,178.18 366.52,179.32 367.50,180.50 C368.54,181.76 369.17,183.45 370.00,185.00 C370.87,186.64 371.76,188.00 372.60,190.10 C373.83,193.18 374.90,197.98 376.10,201.90 C377.30,205.81 378.70,209.68 379.80,213.60 C380.89,217.48 381.50,220.61 382.70,225.30 C384.51,232.39 387.76,243.50 389.70,252.00 C391.45,259.66 392.63,266.66 394.00,274.00 C395.37,281.33 396.66,288.67 397.90,296.00 C399.13,303.30 400.31,311.68 401.40,317.90 C402.21,322.53 402.80,325.04 403.70,330.00 C405.13,337.91 407.53,350.52 409.00,360.80 C410.46,371.02 411.33,381.26 412.50,391.50 C413.67,401.76 414.88,412.03 416.00,422.30 C417.12,432.56 418.18,444.08 419.20,453.10 C420.00,460.17 420.73,465.08 421.50,472.00 C422.43,480.41 423.41,489.83 424.30,500.00 C425.36,512.14 426.10,524.79 427.30,540.00 C428.89,560.22 431.15,587.09 433.10,610.60 C435.05,634.06 437.13,657.46 439.00,680.90 C440.87,704.33 442.80,731.22 444.30,751.20 C445.41,766.04 445.99,775.78 447.20,790.00 C448.68,807.40 451.25,829.99 452.70,848.00 C453.96,863.67 454.67,878.86 455.60,892.00 C456.36,902.67 457.07,911.33 457.80,921.00 C457.80,921.00 457.80,921.00 457.80,921.00 C458.80,934.00 459.78,948.44 460.80,960.00 C461.62,969.26 462.37,977.48 463.30,985.00 C464.07,991.22 464.77,997.18 465.80,1002.00 C466.58,1005.65 467.24,1009.01 468.50,1011.50 C469.46,1013.39 470.83,1016.00 472.00,1016.00 C473.17,1016.00 474.54,1013.39 475.50,1011.50 C476.76,1009.01 477.43,1005.65 478.20,1002.00 C479.22,997.18 479.84,991.22 480.60,985.00 C481.52,977.48 482.45,969.27 483.20,960.00 C484.14,948.45 484.73,934.00 485.50,921.00 C485.50,921.00 485.50,921.00 485.50,921.00 C486.67,911.33 487.99,902.69 489.00,892.00 C490.24,878.87 491.08,862.67 492.00,848.00 C492.92,833.34 493.92,818.67 494.50,804.00 C495.08,789.34 495.00,772.52 495.50,760.00 C495.87,750.67 496.40,744.92 496.90,735.60 C497.57,723.10 498.37,706.33 499.10,691.70 C499.83,677.07 500.57,662.43 501.30,647.80 C502.03,633.17 502.77,618.53 503.50,603.90 C504.23,589.27 504.74,572.46 505.70,560.00 C506.41,550.73 507.45,545.07 508.20,535.80 C509.21,523.34 509.83,506.54 510.80,491.90 C511.77,477.24 512.73,462.55 514.00,447.90 C515.27,433.25 517.27,416.59 518.40,404.00 C519.26,394.51 519.63,387.91 520.40,379.00 C521.29,368.76 522.12,356.98 523.50,346.00 C524.88,334.98 526.62,323.97 528.70,313.00 C530.79,301.97 533.41,288.19 536.00,280.00 C537.61,274.92 539.28,271.82 541.00,268.00 C542.62,264.41 544.01,260.94 546.00,257.70 C548.00,254.44 550.39,251.09 553.00,248.50 C555.43,246.09 558.10,243.87 561.00,242.50 C563.79,241.18 567.05,240.71 570.00,240.30 C572.78,239.91 574.93,240.01 578.20,240.00 C583.07,239.99 590.78,240.22 596.40,240.60 C601.27,240.93 605.50,241.18 610.00,242.00 C614.57,242.83 619.45,243.58 623.60,245.60 C627.79,247.63 631.79,252.32 635.00,254.20 C637.08,255.42 638.64,256.42 640.50,256.60 C642.30,256.78 644.33,256.17 646.00,255.40 C647.67,254.63 649.12,253.34 650.50,252.00 C651.97,250.57 653.08,248.98 654.50,247.00 C656.38,244.38 658.36,240.76 660.60,237.50 C663.08,233.88 666.09,230.13 668.80,226.30 C671.59,222.37 674.18,217.74 677.10,214.20 C679.71,211.04 682.57,208.28 685.30,205.90 C687.70,203.81 689.92,202.06 692.50,200.50 C695.14,198.91 698.10,197.74 701.00,196.50 C703.94,195.24 707.07,194.03 710.00,193.00 C712.73,192.04 715.26,191.31 718.00,190.50 C720.88,189.65 723.75,188.98 726.90,188.00 C730.55,186.86 734.67,185.16 738.60,184.00 C742.48,182.86 746.36,181.90 750.30,181.10 C754.26,180.30 756.91,179.99 762.30,179.20 C773.41,177.57 796.35,174.25 813.40,172.30 C830.41,170.35 847.45,169.02 864.50,167.50 C881.55,165.98 899.24,164.21 915.70,163.20 C930.99,162.27 944.24,161.83 960.00,161.50 C978.03,161.12 999.26,161.04 1018.00,161.30 C1035.63,161.54 1052.26,161.37 1069.30,162.90 C1086.39,164.43 1105.11,167.82 1120.40,170.50 C1132.94,172.70 1143.94,175.44 1154.50,177.40 C1163.60,179.09 1172.33,181.08 1180.00,181.70 C1186.22,182.20 1191.70,182.48 1197.00,181.60 C1201.88,180.79 1205.69,178.75 1210.70,177.00 C1216.84,174.86 1224.21,171.39 1231.10,169.60 C1237.84,167.85 1244.06,167.10 1251.60,166.30 C1260.78,165.32 1273.11,164.58 1282.30,164.70 C1289.80,164.80 1295.95,165.08 1302.70,166.30 C1309.59,167.55 1316.41,170.01 1323.20,172.20 C1330.04,174.41 1337.08,178.06 1343.60,179.50 C1349.28,180.76 1354.75,180.91 1360.00,181.00 C1364.85,181.08 1368.77,180.15 1374.00,180.20 C1380.68,180.26 1388.94,180.52 1396.80,181.90 C1405.54,183.43 1416.75,189.40 1424.00,189.50 C1428.80,189.57 1431.90,188.40 1436.00,186.50 C1441.17,184.10 1446.69,178.90 1452.00,175.00 C1457.35,171.07 1462.70,166.75 1468.00,163.00 C1473.03,159.44 1477.60,155.13 1483.00,153.00 C1488.28,150.92 1493.96,150.68 1500.00,150.20 C1506.79,149.66 1514.07,150.21 1521.80,150.30 C1530.60,150.40 1540.48,150.56 1550.00,150.80 C1559.77,151.05 1569.34,151.24 1579.70,151.80 C1591.08,152.42 1602.71,153.68 1615.50,154.50 C1630.26,155.44 1647.31,156.00 1663.20,157.00 C1679.11,158.00 1698.57,159.73 1710.90,160.50 C1718.70,160.99 1723.63,161.17 1730.00,161.50" fill="none" stroke="#ff8000" stroke-width="7.6" stroke-linecap="round" stroke-linejoin="round"/>
<path d="M337.00,164.90 C342.00,164.90 347.39,164.88 352.00,164.90 C355.95,164.92 360.10,164.38 363.00,165.00 C365.05,165.44 366.32,166.14 368.00,167.20 C370.07,168.51 372.61,170.63 374.30,172.60 C375.84,174.39 376.59,176.10 377.90,178.40 C379.72,181.59 382.19,186.15 384.00,190.10 C385.78,193.98 387.26,197.95 388.70,201.90 C390.12,205.79 391.45,209.68 392.60,213.60 C393.74,217.48 394.50,220.59 395.60,225.30 C397.25,232.38 399.50,243.52 401.20,252.00 C402.74,259.68 404.05,266.66 405.40,274.00 C406.75,281.33 408.06,288.67 409.30,296.00 C410.53,303.30 411.89,311.67 412.80,317.90 C413.47,322.52 413.78,325.04 414.40,330.00 C415.38,337.91 416.80,350.54 418.00,360.80 C419.20,371.04 420.45,381.26 421.60,391.50 C422.75,401.76 423.83,412.03 424.90,422.30 C425.97,432.56 427.10,444.36 428.00,453.10 C428.67,459.57 429.08,463.57 429.80,470.00 C430.76,478.58 432.30,489.27 433.30,500.00 C434.45,512.36 434.94,524.79 436.10,540.00 C437.64,560.22 440.05,587.09 441.90,610.60 C443.75,634.06 445.53,657.46 447.20,680.90 C448.87,704.33 450.43,731.23 451.90,751.20 C452.99,766.05 453.93,778.12 455.00,790.00 C455.91,800.10 456.85,808.51 457.80,818.00 C458.78,827.80 459.90,836.96 460.80,847.90 C461.89,861.15 462.49,879.59 463.60,891.90 C464.41,900.84 465.37,908.14 466.30,915.00 C467.05,920.55 467.72,925.72 468.60,930.00 C469.27,933.25 469.80,936.39 470.80,938.50 C471.48,939.94 472.40,941.80 473.20,941.80 C474.00,941.80 474.92,939.94 475.60,938.50 C476.60,936.39 477.12,933.25 477.80,930.00 C478.69,925.72 479.33,920.54 480.20,915.00 C481.29,908.13 482.69,900.85 483.80,891.90 C485.33,879.60 486.68,862.56 487.90,847.90 C489.12,833.26 490.25,818.65 491.10,804.00 C491.95,789.35 492.35,772.52 493.00,760.00 C493.49,750.67 493.98,744.92 494.50,735.60 C495.20,723.10 495.90,706.33 496.70,691.70 C497.50,677.06 498.48,662.43 499.30,647.80 C500.12,633.17 500.78,618.53 501.60,603.90 C502.42,589.27 503.42,572.47 504.20,560.00 C504.78,550.74 505.19,545.06 505.80,535.80 C506.62,523.33 507.60,506.54 508.70,491.90 C509.80,477.24 511.05,462.55 512.40,447.90 C513.75,433.25 515.56,416.59 516.80,404.00 C517.73,394.50 518.19,387.90 519.20,379.00 C520.36,368.75 521.59,356.96 523.50,346.00 C525.42,334.96 528.23,323.67 530.70,313.00 C533.04,302.90 535.57,291.13 537.90,283.60 C539.40,278.76 540.57,275.75 542.30,271.90 C544.08,267.94 546.21,263.78 548.50,260.20 C550.64,256.85 552.94,253.61 555.50,251.00 C557.84,248.61 560.32,246.40 563.10,245.00 C565.80,243.64 568.53,243.14 571.90,242.60 C576.29,241.90 581.95,241.91 587.30,241.80 C593.11,241.68 599.44,241.77 605.50,242.00 C611.54,242.23 618.03,242.29 623.60,243.20 C628.53,244.00 633.19,245.81 637.30,246.80 C640.63,247.60 643.35,248.64 646.40,248.80 C649.42,248.96 652.61,248.89 655.50,247.80 C658.67,246.61 661.55,243.80 664.50,241.50 C667.59,239.09 670.94,236.38 673.60,233.60 C676.06,231.03 677.54,228.58 680.00,225.50 C683.31,221.36 687.67,215.45 691.70,211.00 C695.48,206.83 699.33,202.80 703.40,199.50 C707.18,196.44 711.17,193.82 715.20,191.70 C719.01,189.70 722.98,188.42 726.90,187.00 C730.78,185.59 734.69,184.39 738.60,183.20 C742.49,182.02 746.37,180.93 750.30,179.90 C754.26,178.86 756.89,178.15 762.30,177.00 C773.40,174.64 796.34,170.44 813.40,167.60 C830.41,164.77 847.42,161.90 864.50,160.00 C881.52,158.10 899.24,156.87 915.70,156.20 C930.99,155.58 944.23,155.75 960.00,155.90 C978.08,156.07 998.03,156.76 1018.20,157.40 C1040.03,158.10 1063.68,159.10 1086.40,160.00 C1109.11,160.90 1139.24,161.70 1154.50,162.80 C1162.25,163.36 1166.53,163.57 1172.00,164.60 C1176.97,165.54 1181.36,166.78 1186.00,168.50 C1190.87,170.30 1195.75,172.69 1200.50,175.30 C1205.42,178.00 1210.41,181.13 1215.00,184.50 C1219.57,187.86 1224.04,191.77 1228.00,195.50 C1231.65,198.94 1235.00,202.45 1238.00,206.00 C1240.79,209.29 1243.11,212.66 1245.50,216.00 C1247.83,219.26 1250.15,222.55 1252.20,225.80 C1254.13,228.88 1255.89,232.05 1257.50,235.00 C1258.96,237.66 1260.10,240.14 1261.50,242.70 C1262.93,245.31 1264.28,248.27 1266.00,250.50 C1267.55,252.50 1269.45,255.59 1271.20,255.60 C1272.95,255.61 1274.95,252.56 1276.50,250.50 C1278.28,248.14 1279.55,244.97 1281.00,242.00 C1282.55,238.83 1284.05,235.51 1285.50,232.00 C1287.06,228.21 1288.53,224.09 1290.00,220.00 C1291.53,215.76 1293.04,211.46 1294.50,207.00 C1296.04,202.31 1297.45,197.14 1299.00,192.50 C1300.45,188.16 1301.92,183.91 1303.50,180.00 C1304.93,176.45 1306.32,173.03 1308.00,170.00 C1309.52,167.25 1311.03,164.47 1313.00,162.50 C1314.76,160.74 1316.84,159.53 1319.00,158.50 C1321.17,157.46 1323.39,156.96 1326.00,156.30 C1329.21,155.49 1333.70,154.67 1336.90,154.20 C1339.39,153.83 1340.87,153.73 1343.60,153.50 C1347.86,153.15 1353.93,152.72 1360.00,152.50 C1367.56,152.23 1375.78,152.28 1385.50,152.20 C1398.49,152.10 1415.84,152.03 1431.00,152.00 C1446.14,151.97 1463.88,151.72 1476.40,152.00 C1485.24,152.20 1490.70,152.51 1499.00,153.00 C1509.18,153.60 1522.79,155.21 1533.00,155.50 C1541.35,155.73 1548.12,155.62 1555.80,155.10 C1563.69,154.57 1571.73,152.87 1579.70,152.30 C1587.63,151.74 1594.76,151.88 1603.50,151.70 C1614.22,151.48 1624.64,151.22 1639.30,151.10 C1662.63,150.90 1699.77,151.10 1730.00,151.10" fill="none" stroke="#c0c0c0" stroke-width="7.6" stroke-linecap="round" stroke-linejoin="round"/>
</g>
</g>
<line x1="286" y1="150.50" x2="305" y2="150.50" stroke="#000" stroke-width="4.5"/>
<line x1="286" y1="431.93" x2="305" y2="431.93" stroke="#000" stroke-width="4.5"/>
<line x1="286" y1="713.36" x2="305" y2="713.36" stroke="#000" stroke-width="4.5"/>
<line x1="286" y1="994.79" x2="305" y2="994.79" stroke="#000" stroke-width="4.5"/>
<line x1="295" y1="291.22" x2="305" y2="291.22" stroke="#000" stroke-width="4.5"/>
<line x1="295" y1="572.64" x2="305" y2="572.64" stroke="#000" stroke-width="4.5"/>
<line x1="295" y1="854.08" x2="305" y2="854.08" stroke="#000" stroke-width="4.5"/>
<line x1="295" y1="1135.51" x2="305" y2="1135.51" stroke="#000" stroke-width="4.5"/>
<line x1="305.00" y1="1135" x2="305.00" y2="1154" stroke="#000" stroke-width="3.8"/>
<line x1="498.29" y1="1135" x2="498.29" y2="1154" stroke="#000" stroke-width="3.8"/>
<line x1="691.57" y1="1135" x2="691.57" y2="1154" stroke="#000" stroke-width="3.8"/>
<line x1="884.86" y1="1135" x2="884.86" y2="1154" stroke="#000" stroke-width="3.8"/>
<line x1="1078.14" y1="1135" x2="1078.14" y2="1154" stroke="#000" stroke-width="3.8"/>
<line x1="1271.43" y1="1135" x2="1271.43" y2="1154" stroke="#000" stroke-width="3.8"/>
<line x1="1464.71" y1="1135" x2="1464.71" y2="1154" stroke="#000" stroke-width="3.8"/>
<line x1="1658.00" y1="1135" x2="1658.00" y2="1154" stroke="#000" stroke-width="3.8"/>
<line x1="401.64" y1="1135" x2="401.64" y2="1145" stroke="#000" stroke-width="3.8"/>
<line x1="594.93" y1="1135" x2="594.93" y2="1145" stroke="#000" stroke-width="3.8"/>
<line x1="788.21" y1="1135" x2="788.21" y2="1145" stroke="#000" stroke-width="3.8"/>
<line x1="981.50" y1="1135" x2="981.50" y2="1145" stroke="#000" stroke-width="3.8"/>
<line x1="1174.78" y1="1135" x2="1174.78" y2="1145" stroke="#000" stroke-width="3.8"/>
<line x1="1368.07" y1="1135" x2="1368.07" y2="1145" stroke="#000" stroke-width="3.8"/>
<line x1="1561.36" y1="1135" x2="1561.36" y2="1145" stroke="#000" stroke-width="3.8"/>
<line x1="1052" y1="741.9" x2="1135.5" y2="741.9" stroke="#000000" stroke-width="8" stroke-linecap="round"/>
<line x1="1408" y1="741.9" x2="1491.5" y2="741.9" stroke="#ff0000" stroke-width="8" stroke-linecap="round"/>
<line x1="1052" y1="837" x2="1135.5" y2="837" stroke="#00ff00" stroke-width="8" stroke-linecap="round"/>
<line x1="1408" y1="837" x2="1491.5" y2="837" stroke="#8000ff" stroke-width="8" stroke-linecap="round"/>
<line x1="1052" y1="932.9" x2="1135.5" y2="932.9" stroke="#80ffff" stroke-width="8" stroke-linecap="round"/>
<line x1="1408" y1="932.9" x2="1491.5" y2="932.9" stroke="#ff40a0" stroke-width="8" stroke-linecap="round"/>
<line x1="1052" y1="1028" x2="1135.5" y2="1028" stroke="#ff8000" stroke-width="8" stroke-linecap="round"/>
<line x1="1408" y1="1028" x2="1491.5" y2="1028" stroke="#c0c0c0" stroke-width="8" stroke-linecap="round"/>
<text x="45.85" y="88.00" font-size="77.00" font-weight="bold" textLength="23.61" lengthAdjust="spacingAndGlyphs">(</text>
<text x="71.29" y="98.25" font-size="90.00" font-weight="bold" textLength="40.61" lengthAdjust="spacingAndGlyphs">a</text>
<text x="113.10" y="88.00" font-size="77.00" font-weight="bold" textLength="24.37" lengthAdjust="spacingAndGlyphs">)</text>
<text x="693.06" y="72.20" font-size="78.00" textLength="110.50" lengthAdjust="spacingAndGlyphs">f'(t)</text>
<text x="803.93" y="89.50" font-size="51.00" textLength="164.49" lengthAdjust="spacingAndGlyphs">4 mbar,</text>
<text x="980.99" y="90.10" font-size="51.00" textLength="105.89" lengthAdjust="spacingAndGlyphs">TGA</text>
<text x="1086.96" y="105.60" font-size="36.00" textLength="170.39" lengthAdjust="spacingAndGlyphs">normalized</text>
<text x="172.12" y="173.00" font-size="86.00" textLength="103.24" lengthAdjust="spacingAndGlyphs">0.0</text>
<text x="125.24" y="455.00" font-size="86.00" textLength="146.59" lengthAdjust="spacingAndGlyphs">−0.5</text>
<text x="125.16" y="736.00" font-size="86.00" textLength="149.73" lengthAdjust="spacingAndGlyphs">−1.0</text>
<text x="125.24" y="1017.00" font-size="86.00" textLength="146.59" lengthAdjust="spacingAndGlyphs">−1.5</text>
<text x="283.02" y="1226.50" font-size="86.00" textLength="42.44" lengthAdjust="spacingAndGlyphs">0</text>
<text x="434.26" y="1226.50" font-size="86.00" textLength="124.43" lengthAdjust="spacingAndGlyphs">150</text>
<text x="627.10" y="1226.50" font-size="86.00" textLength="125.72" lengthAdjust="spacingAndGlyphs">300</text>
<text x="823.08" y="1226.50" font-size="86.00" textLength="123.60" lengthAdjust="spacingAndGlyphs">450</text>
<text x="1017.17" y="1226.50" font-size="86.00" textLength="121.94" lengthAdjust="spacingAndGlyphs">600</text>
<text x="1209.17" y="1226.50" font-size="86.00" textLength="125.14" lengthAdjust="spacingAndGlyphs">750</text>
<text x="1403.12" y="1226.50" font-size="86.00" textLength="122.20" lengthAdjust="spacingAndGlyphs">900</text>
<text x="1574.18" y="1226.50" font-size="86.00" textLength="167.62" lengthAdjust="spacingAndGlyphs">1050</text>
<text x="869.01" y="1316.15" font-size="86.00" textLength="52.24" lengthAdjust="spacingAndGlyphs">T</text>
<text x="920.10" y="1341.15" font-size="60.00" textLength="82.47" lengthAdjust="spacingAndGlyphs">Ref</text>
<text x="1022.00" y="1326.00" font-size="105.00" textLength="25.57" lengthAdjust="spacingAndGlyphs">/</text>
<text x="1067.98" y="1316.05" font-size="86.00" textLength="91.91" lengthAdjust="spacingAndGlyphs">°C</text>
<text transform="translate(113.42,1051.12) rotate(-90)" font-size="86.00" textLength="373.67" lengthAdjust="spacingAndGlyphs">dΔm · (dt)</text>
<text transform="translate(80.13,677.86) rotate(-90)" font-size="58.00" textLength="58.35" lengthAdjust="spacingAndGlyphs">−1</text>
<text transform="translate(122.62,595.69) rotate(-90)" font-size="105.00" textLength="26.59" lengthAdjust="spacingAndGlyphs">/</text>
<text transform="translate(112.88,547.00) rotate(-90)" font-size="86.00" textLength="277.91" lengthAdjust="spacingAndGlyphs">wt% · h</text>
<text transform="translate(80.22,269.95) rotate(-90)" font-size="58.00" textLength="60.60" lengthAdjust="spacingAndGlyphs">−1</text>
<text x="1177.01" y="766.60" font-size="68.00" textLength="84.49" lengthAdjust="spacingAndGlyphs">0 h</text>
<text x="1531.04" y="766.60" font-size="68.00" textLength="189.56" lengthAdjust="spacingAndGlyphs">10 min</text>
<text x="1178.01" y="861.60" font-size="68.00" textLength="188.97" lengthAdjust="spacingAndGlyphs">40 min</text>
<text x="1531.93" y="861.60" font-size="68.00" textLength="85.88" lengthAdjust="spacingAndGlyphs">1 h</text>
<text x="1175.97" y="956.60" font-size="68.00" textLength="85.55" lengthAdjust="spacingAndGlyphs">6 h</text>
<text x="1531.01" y="956.60" font-size="68.00" textLength="118.70" lengthAdjust="spacingAndGlyphs">10 h</text>
<text x="1176.02" y="1051.60" font-size="68.00" textLength="117.67" lengthAdjust="spacingAndGlyphs">24 h</text>
<text x="1531.02" y="1051.60" font-size="68.00" textLength="118.49" lengthAdjust="spacingAndGlyphs">72 h</text>
</svg>
</body></html>
